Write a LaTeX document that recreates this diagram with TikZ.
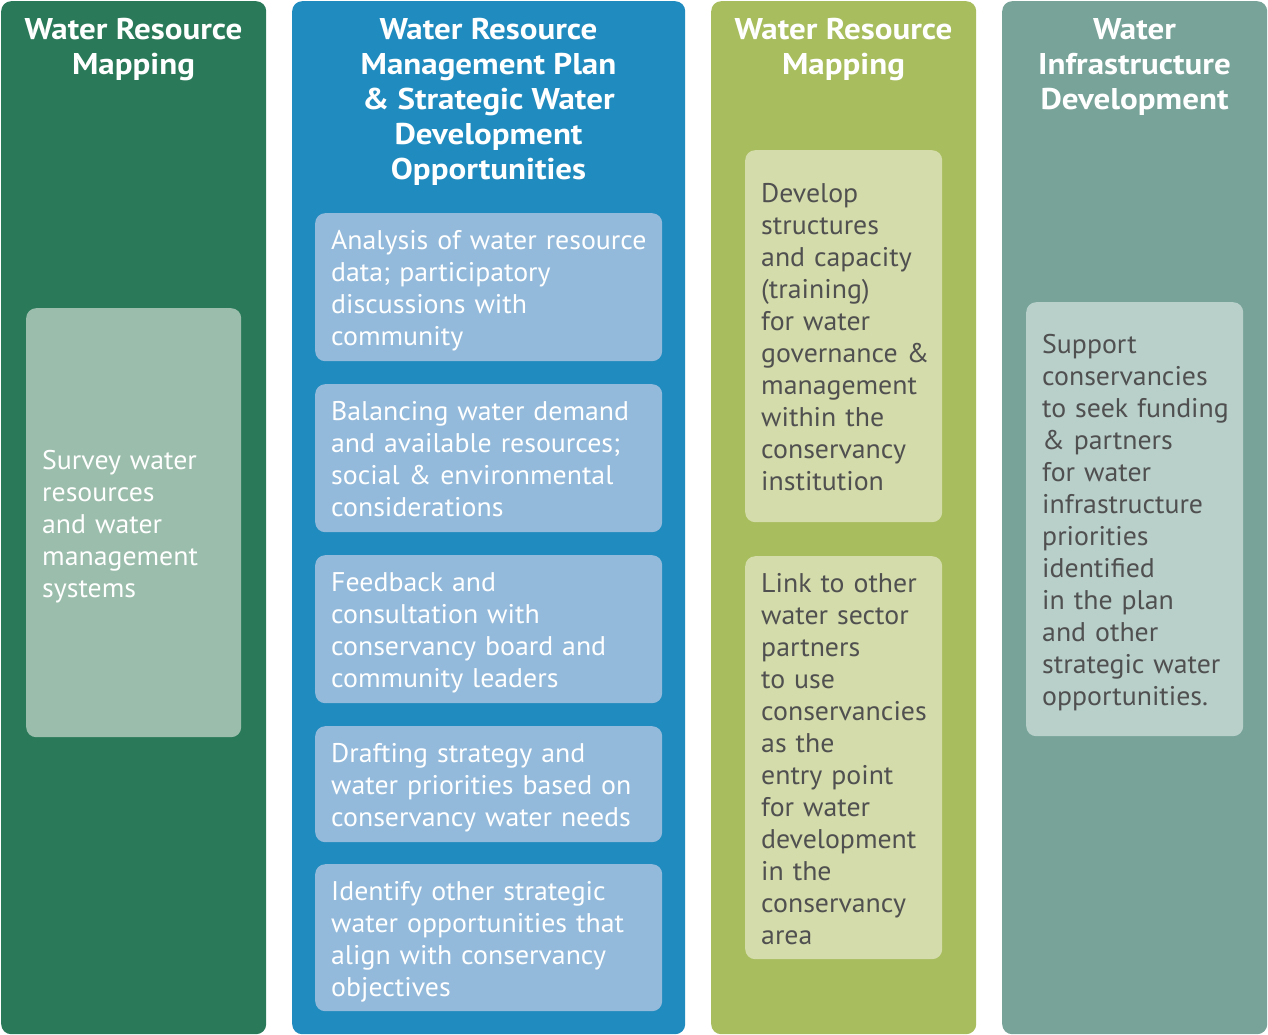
\documentclass[tikz,border=0pt]{standalone}
\usepackage{fontspec}
\setmainfont{PT Sans}[FakeStretch=1.03]
\newfontfamily\headfont{PT Sans}[FakeStretch=1.1]
% card body: one unbroken line per row, lowered slightly within its box
\newcommand\cardlines[1]{\noindent\raisebox{-4pt}[\height][\depth]{\begin{tabular}{@{}l@{}}#1\end{tabular}}}
\begin{document}
\begin{tikzpicture}[x=1pt,y=-1pt,
  column/.style={rounded corners=10pt, inner sep=0pt, anchor=north west},
  heading/.style={text=white, font=\headfont\bfseries\fontsize{30}{35}\selectfont, align=center, anchor=north, inner sep=0pt},
  card/.style={rounded corners=10pt, inner xsep=16pt, inner ysep=0pt, align=left, anchor=north west,
    font=\fontsize{27}{32}\selectfont},
]
\definecolor{darkgreen}{HTML}{2A7A5A}
\definecolor{darkgreenlt}{HTML}{9BBDAB}
\definecolor{ocean}{HTML}{208BBE}
\definecolor{oceanlt}{HTML}{93BADB}
\definecolor{olive}{HTML}{A8BD5E}
\definecolor{olivelt}{HTML}{D3DCAA}
\definecolor{sage}{HTML}{77A398}
\definecolor{sagelt}{HTML}{B8CFCA}
\definecolor{inktext}{HTML}{505050}

% page area
\useasboundingbox (0,0) rectangle (1268,1035);
\fill[white] (0,0) rectangle (1268,1035);

% four columns
\node[column, fill=darkgreen, minimum width=265pt, minimum height=1033pt] (c1) at (1,1) {};
\node[column, fill=ocean,     minimum width=393pt, minimum height=1033pt] (c2) at (292,1) {};
\node[column, fill=olive,     minimum width=265pt, minimum height=1033pt] (c3) at (711,1) {};
\node[column, fill=sage,      minimum width=265pt, minimum height=1033pt] (c4) at (1002,1) {};

% column headings
\node[heading] (h1) at (133.5,18) {Water Resource\\Mapping};
\node[heading] (h2) at (488.5,18) {Water Resource\\Management Plan\\\& Strategic Water\\Development\\Opportunities};
\node[heading] (h3) at (843.5,18) {Water Resource\\Mapping};
\node[heading] (h4) at (1134.5,18) {Water\\Infrastructure\\Development};

% column 1
\node[card, fill=darkgreenlt, text=white, text width=183pt, minimum height=429pt] (s1) at (26,308)
  {\cardlines{Survey water\\resources\\and water\\management\\systems}};

% column 2
\node[card, fill=oceanlt, text=white, text width=315pt, minimum height=148pt] (a1) at (315,213)
  {\cardlines{Analysis of water resource\\data; participatory\\discussions with\\community}};
\node[card, fill=oceanlt, text=white, text width=315pt, minimum height=148pt] (a2) at (315,384)
  {\cardlines{Balancing water demand\\and available resources;\\social \& environmental\\considerations}};
\node[card, fill=oceanlt, text=white, text width=315pt, minimum height=148pt] (a3) at (315,555)
  {\cardlines{Feedback and\\consultation with\\conservancy board and\\community leaders}};
\node[card, fill=oceanlt, text=white, text width=315pt, minimum height=116pt] (a4) at (315,726)
  {\cardlines{Drafting strategy and\\water priorities based on\\conservancy water needs}};
\node[card, fill=oceanlt, text=white, text width=315pt, minimum height=147pt] (a5) at (315,864)
  {\cardlines{Identify other strategic\\water opportunities that\\align with conservancy\\objectives}};

% column 3
\node[card, fill=olivelt, text=inktext, text width=165pt, minimum height=372pt] (b1) at (745,150)
  {\cardlines{Develop\\structures\\and capacity\\(training)\\for water\\governance \&\\management\\within the\\conservancy\\institution}};
\node[card, fill=olivelt, text=inktext, text width=165pt, minimum height=403pt] (b2) at (745,556)
  {\cardlines{Link to other\\water sector\\partners\\to use\\conservancies\\as the\\entry point\\for water\\development\\in the\\conservancy\\area}};

% column 4
\node[card, fill=sagelt, text=inktext, text width=185pt, minimum height=434pt] (d1) at (1026,302)
  {\cardlines{Support\\conservancies\\to seek funding\\\& partners\\for water\\infrastructure\\priorities\\identified\\in the plan\\and other\\strategic water\\opportunities.}};
\end{tikzpicture}
\end{document}
